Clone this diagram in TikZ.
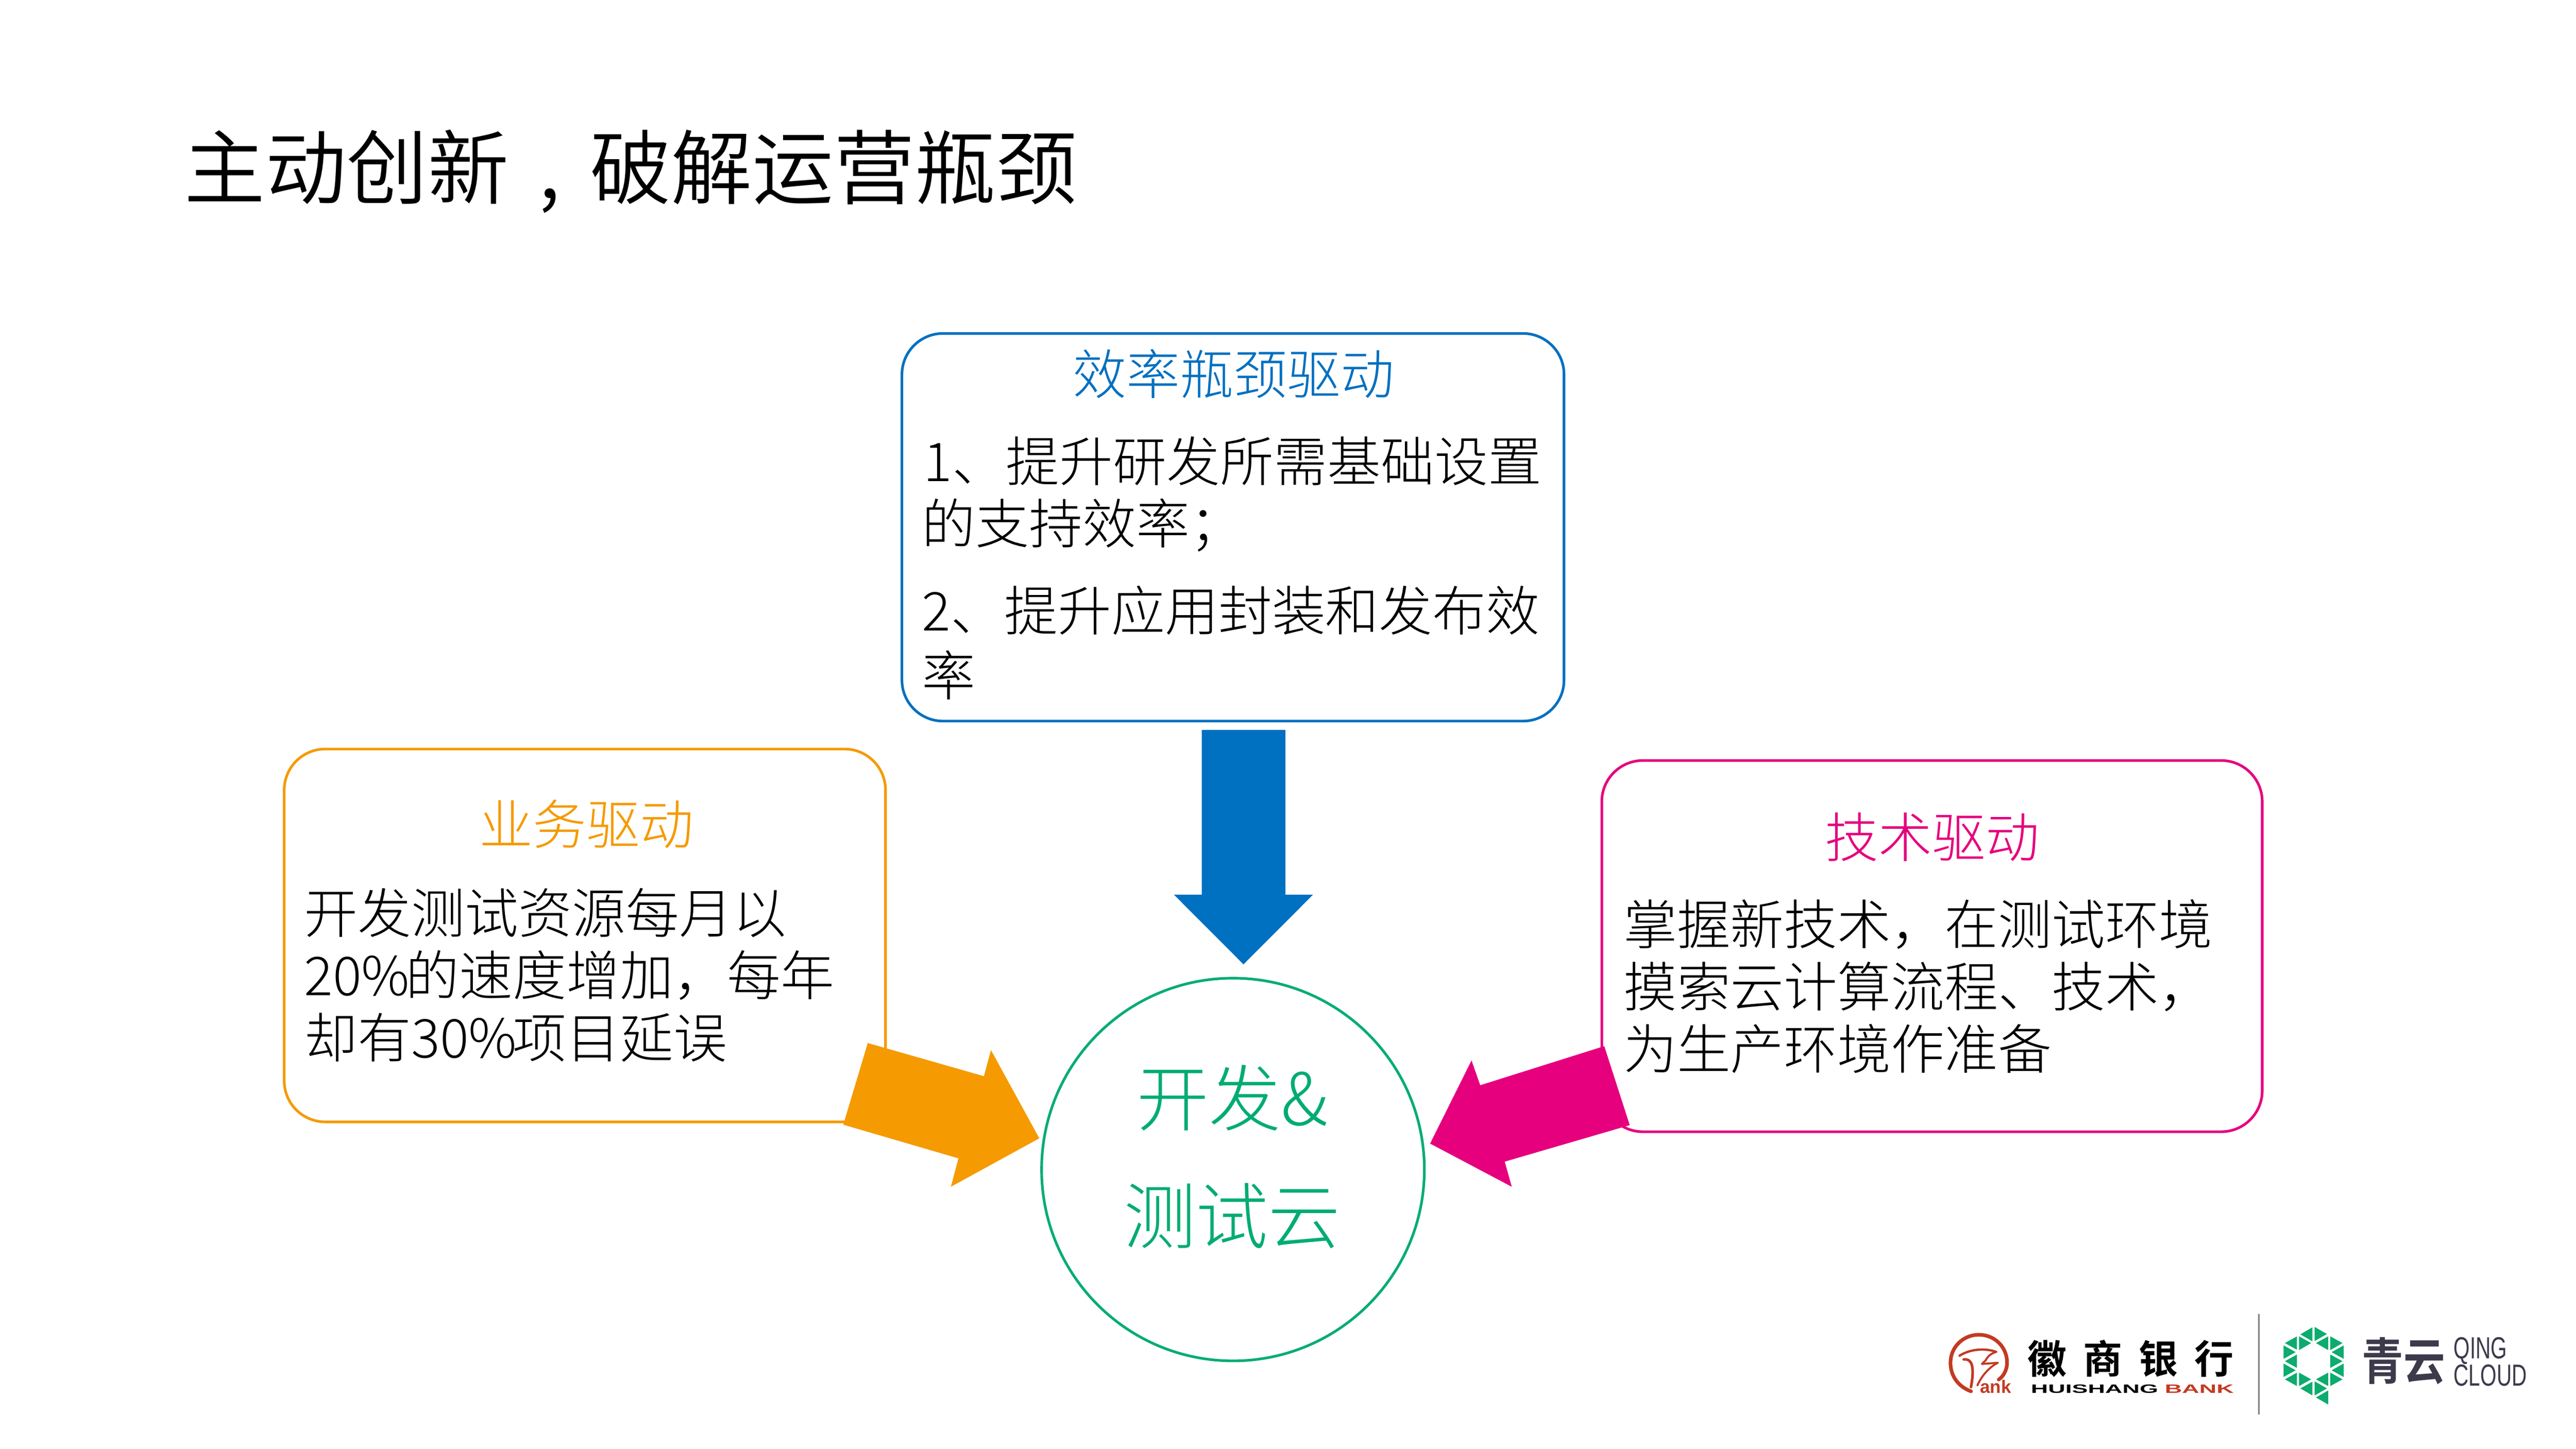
\documentclass[tikz,border=0pt]{standalone}
\usepackage{fontspec}
\setmainfont{Noto Sans CJK SC Light}
\newfontfamily\boldcjk{Noto Sans CJK SC Bold}
\newfontfamily\titlecjk{Noto Sans CJK SC DemiLight}
\newfontfamily\widelat[FakeStretch=1.97]{Liberation Sans Bold}
\newfontfamily\narrowlat[FakeStretch=0.686]{Liberation Sans}
\newfontfamily\anklat{Liberation Sans Bold}
\definecolor{cblue}{HTML}{0070C0}
\definecolor{corange}{HTML}{F59A00}
\definecolor{cpink}{HTML}{E6007E}
\definecolor{cgreen}{HTML}{00AC72}
\definecolor{lgreen}{HTML}{0CAB6E}
\definecolor{lred}{HTML}{C23A22}
\definecolor{lslate}{HTML}{3D3A4B}
\tikzset{
  boxx/.style={draw=#1,line width=0.08cm,rounded corners=1.25cm},
  arrowfill/.style={fill=#1,draw=none},
  txt/.style={inner sep=0,anchor=base west,align=left},
  body/.style={txt,font=\fontsize{46.4}{47}\selectfont},
  headtxt/.style={anchor=base,inner sep=0,text=#1,font=\fontsize{46.4}{47}\selectfont},
  coretxt/.style={anchor=base,inner sep=0,text=cgreen,font=\fontsize{62.5}{64}\selectfont},
  redstroke/.style={draw=lred,line cap=round,line join=round},
}
\begin{document}
\begin{tikzpicture}[x=0.05cm,y=-0.05cm]
\useasboundingbox (0,0) rectangle (1568,881.9);
\node[txt,font=\titlecjk\fontsize{70.3}{71}\selectfont] (title) at (112,120.5) {主动创新\makebox[1em][c]{,}破解运营瓶颈};
\draw[boxx=cblue] (549,203) rectangle (952,439);
\draw[boxx=corange] (173,456) rectangle (539,683);
\draw[boxx=cpink] (975,463) rectangle (1377,689);
\node[draw=cgreen,line width=0.08cm,circle,minimum size=11.65cm,inner sep=0] (core) at (750.5,712) {};
\node[headtxt=cblue] (h1) at (751,240) {效率瓶颈驱动};
\node[body] (b1a) at (562,293) {1、提升研发所需基础设置};
\node[body] (b1b) at (561,331) {的支持效率；};
\node[body] (b1c) at (561,384) {2、提升应用封装和发布效};
\node[body] (b1d) at (561,423.5) {率};
\node[headtxt=corange] (h2) at (357,514) {业务驱动};
\node[body] (b2a) at (185,568) {开发测试资源每月以};
\node[body] (b2b) at (185,606) {20\%\hspace{-0.12cm}的速度增加，每年};
\node[body] (b2c) at (185,644) {却有30\%\hspace{-0.12cm}项目延误};
\node[headtxt=cpink] (h3) at (1176,522) {技术驱动};
\node[body] (b3a) at (988,575) {掌握新技术，在测试环境};
\node[body] (b3b) at (988,613) {摸索云计算流程、技术，};
\node[body] (b3c) at (988,651) {为生产环境作准备};
\node[coretxt] (c1) at (750,685) {开发\&};
\node[coretxt] (c2) at (750,757) {测试云};
\fill[arrowfill=cblue] (731.5,444.4)--(782.4,444.4)--(782.4,544.7)--(799.2,544.7)--(756.9,587.1)--(714.6,544.7)--(731.5,544.7)--cycle;
\fill[arrowfill=corange] (528.2,635)--(598.9,655.2)--(603.2,639.3)--(632.6,693)--(578.8,722.5)--(583.4,705.2)--(513.3,684.7)--cycle;
\fill[arrowfill=cpink] (976.5,636.9)--(901,660.7)--(895.7,645.6)--(870.5,696.2)--(920.2,722.5)--(915.9,707.2)--(992,685)--cycle;
% divider
\draw[gray,line width=0.05cm] (1375,800)--(1375,861);
% bank logo
\begin{scope}[shift={(1185.4,808.7)},x=0.005105cm,y=-0.005105cm]
\draw[redstroke,line width=0.11cm] (140,375) .. controls (60,345) and (18,280) .. (18,205) .. controls (18,110) and (95,38) .. (187,38) .. controls (280,38) and (355,110) .. (355,205) .. controls (355,245) and (335,285) .. (305,305);
\draw[redstroke,line width=0.07cm] (72,163) .. controls (130,125) and (220,115) .. (290,140);
\draw[redstroke,line width=0.06cm] (290,140) .. controls (260,150) and (240,165) .. (228,190) -- (205,212) -- (300,205);
\draw[redstroke,line width=0.06cm] (300,205) .. controls (250,230) and (205,280) .. (178,340);
\draw[redstroke,line width=0.08cm] (97,185) .. controls (140,180) and (165,215) .. (140,350);
\node[txt,text=lred,font=\anklat\fontsize{15.6}{16}\selectfont] (ank) at (193,385) {ank};
\end{scope}
\node[anchor=center,inner sep=0,font=\boldcjk\fontsize{34}{34}\selectfont] (bank) at (1297,827) {徽\hspace{0.5cm}商\hspace{0.5cm}银\hspace{0.5cm}行};
\node[txt,font=\widelat\fontsize{10.5}{11}\selectfont] (bankn) at (1236,848) {HUISHANG \textcolor{lred}{BANK}};
% qingcloud logo
\begin{scope}[shift={(1390.6,805.6)},x=0.005105cm,y=-0.005105cm]
\foreach \a/\b/\c/\d/\e/\f in {
166/24/166/108/94/66, 179/22/179/106/252/64, 86/78/86/160/158/118, 74/78/74/158/2/118,
260/78/260/160/187/118, 272/78/272/160/345/118, -6/132/-6/212/66/172, 74/186/74/266/2/226,
-6/240/-6/320/66/280, 74/294/74/374/2/334, 86/294/86/374/158/334, 166/348/166/430/94/388,
179/346/179/430/252/388, 260/294/260/374/187/334, 272/294/272/374/345/334, 352/240/352/320/280/280,
272/186/272/266/345/226, 352/132/352/212/280/172, 260/400/260/484/187/442}
  \fill[lgreen] (\a,\b)--(\c,\d)--(\e,\f)--cycle;
\end{scope}
\node[anchor=center,inner sep=0,text=lslate,font=\boldcjk\fontsize{36}{36}\selectfont,yscale=1.2,transform shape] (qc) at (1463,828.5) {青云};
\node[anchor=south west,inner sep=0,align=left,text=lslate,font=\narrowlat\fontsize{26.4}{23.7}\selectfont] (qc2) at (1493.4,844) {QING\\CLOUD};
\end{tikzpicture}
\end{document}
